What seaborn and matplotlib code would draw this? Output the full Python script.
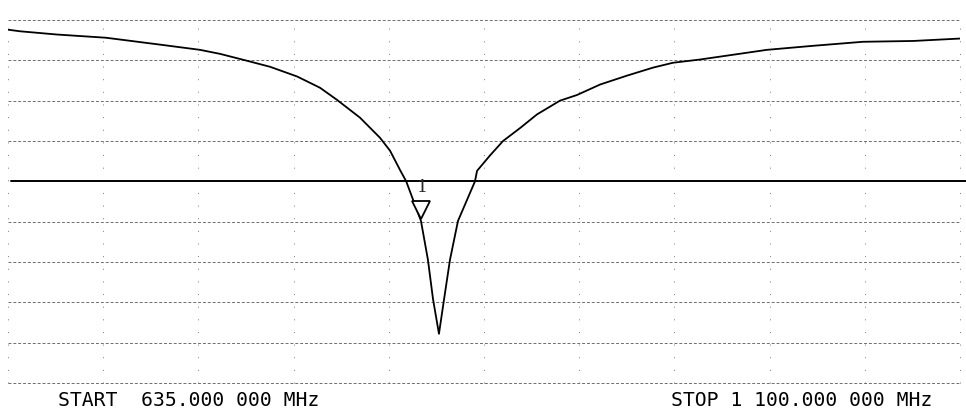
import numpy as np
import pandas as pd
import matplotlib
matplotlib.use("Agg")
import matplotlib.pyplot as plt
import matplotlib.transforms as mtransforms
import seaborn as sns

# ---- data ----
freq_mhz = [635.0, 640.9, 658.9, 682.9, 710.7, 728.8, 738.6, 751.7, 763.0, 776.2,
            787.4, 795.7, 806.9, 816.7, 821.6, 826.5, 829.5, 836.7, 840.1, 842.6,
            845.5, 848.0, 850.9, 854.8, 863.1, 864.1, 870.4, 876.8, 885.1, 893.4,
            904.6, 912.9, 924.2, 937.3, 950.1, 959.8, 973.0, 1005.7, 1028.2,
            1052.6, 1077.0, 1100.0]
level_db = [18.8, 18.6, 18.2, 17.8, 16.9, 16.3, 15.8, 14.95, 14.2, 13.0,
            11.6, 10.1, 7.9, 5.4, 3.8, 1.4, 0.0, -4.9, -9.7, -14.6,
            -18.9, -14.6, -9.7, -4.9, 0.0, 1.3, 3.2, 5.0, 6.6, 8.3,
            10.0, 10.7, 12.0, 13.1, 14.1, 14.7, 15.1, 16.3, 16.8,
            17.3, 17.4, 17.7]
start_mhz = 635.0
stop_mhz = 1100.0
ref_level_db = 0.0
db_per_div = 5.0
top_db = 20.0
bottom_db = -25.0
marker_label = "1"
marker_freq_mhz = 836.7
start_text = "START  635.000 000 MHz"
stop_text = "STOP 1 100.000 000 MHz"

df = pd.DataFrame({"freq": freq_mhz, "level": level_db})

sns.set_style("white")
plt.rcParams["font.family"] = ["DejaVu Sans Mono", "DejaVu Sans"]

fig = plt.figure(figsize=(9.66, 4.18), dpi=100)
ax = fig.add_axes([8 / 966, 35 / 418, 952 / 966, 363 / 418])

sns.lineplot(data=df, x="freq", y="level", ax=ax, color="black",
             linewidth=1.3, sort=False)

ax.set_xlim(start_mhz, stop_mhz)
ax.set_ylim(bottom_db, top_db)
ax.set_xticks(np.linspace(start_mhz, stop_mhz, 11))
ax.set_yticks(np.arange(bottom_db, top_db + 0.01, db_per_div))
ax.tick_params(length=0, labelbottom=False, labelleft=False)
ax.set_xlabel("")
ax.set_ylabel("")
for s in ax.spines.values():
    s.set_visible(False)

# grid: dashed horizontal, sparse dotted vertical
for yv in ax.get_yticks():
    if abs(yv - ref_level_db) < 1e-9:
        continue
    ax.axhline(yv, color="#6e6e6e", linewidth=0.7, linestyle=(0, (3, 2)),
               zorder=0, clip_on=False)
for xv in ax.get_xticks():
    ax.axvline(xv, color="#7a7a7a", linewidth=0.7, linestyle=(0, (1, 12)),
               zorder=0, clip_on=False)

# reference line
ax.axhline(ref_level_db, xmin=0.003, xmax=1.006, color="black",
           linewidth=1.4, clip_on=False, zorder=3)

# marker 1 (on the falling branch of the trace)
imin = int(np.argmin(level_db))
mval = float(np.interp(marker_freq_mhz, freq_mhz[:imin + 1], level_db[:imin + 1]))
off_tri = mtransforms.offset_copy(ax.transData, fig=fig, x=0, y=8, units="points")
ax.plot([marker_freq_mhz], [mval], marker="v", markersize=13,
        markerfacecolor="white", markeredgecolor="black", markeredgewidth=1.3,
        transform=off_tri, zorder=4)
off_txt = mtransforms.offset_copy(ax.transData, fig=fig, x=1, y=18, units="points")
ax.text(marker_freq_mhz, mval, marker_label, transform=off_txt, ha="center",
        va="bottom", fontsize=12.5, family=["DejaVu Serif"], zorder=5)

fig.text(58 / 966, 1 - 400 / 418, start_text, ha="left", va="center",
         fontsize=14.2, color="black")
fig.text(932 / 966, 1 - 400 / 418, stop_text, ha="right", va="center",
         fontsize=14.2, color="black")

fig.savefig("out.png", dpi=100, facecolor="white")
